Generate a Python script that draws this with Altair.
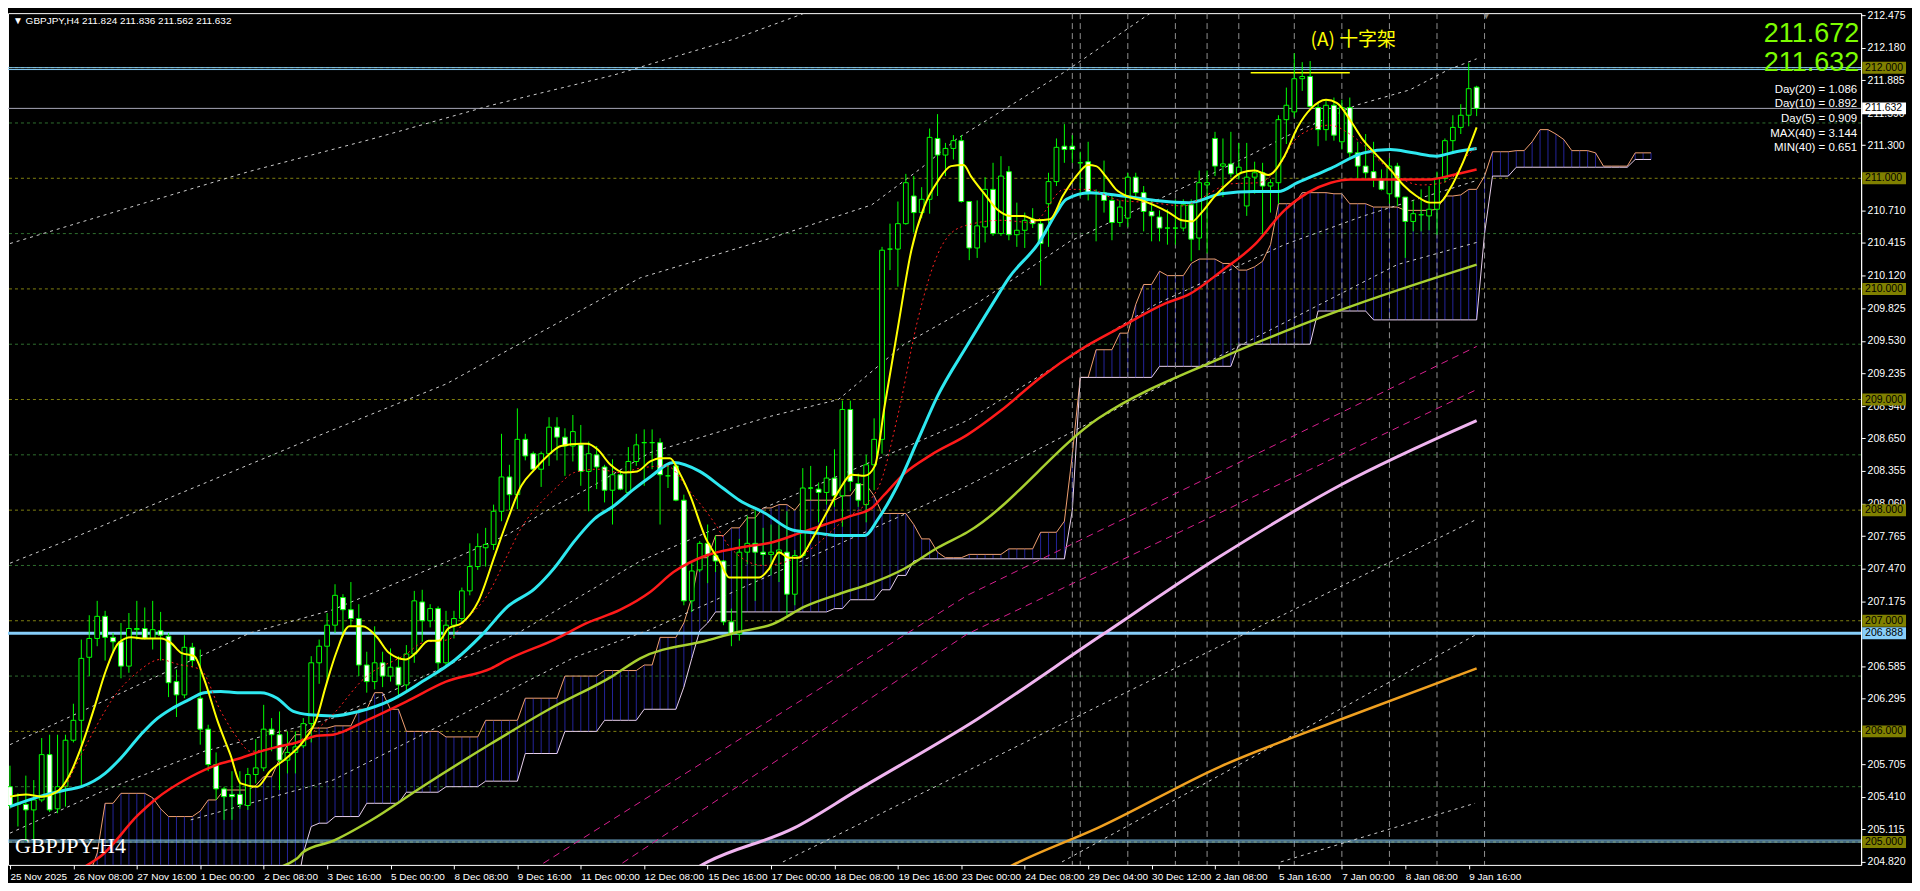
import json
import altair as alt
import pandas as pd

# ---------------- candles (H4, index 0 = 25 Nov 2025 00:00) ----------------
OPEN = [205.50,205.35,205.34,205.29,205.38,205.79,205.30,205.50,205.92,206.10,
206.67,206.84,207.04,206.85,206.81,206.59,206.92,206.93,206.84,206.91,
206.86,206.45,206.33,206.76,206.30,206.02,205.70,205.48,205.43,205.43,
205.33,205.61,205.67,206.02,205.97,205.74,205.81,205.87,206.07,206.62,
206.77,206.96,207.21,207.10,207.02,206.60,206.45,206.62,206.50,206.58,
206.42,206.70,207.17,207.00,207.11,206.62,206.96,207.02,207.27,207.49,
207.66,207.69,207.99,208.30,208.14,208.64,208.51,208.37,208.51,208.75,
208.66,208.58,208.59,208.35,208.50,208.39,208.18,208.32,208.16,208.44,
208.61,208.61,208.61,208.31,208.40,208.09,207.18,207.46,207.70,207.59,
207.54,206.99,206.88,207.62,207.70,207.62,207.60,207.61,207.62,207.24,
207.59,208.20,208.19,208.16,208.29,208.13,208.91,208.24,208.05,208.41,
208.64,210.36,210.36,210.59,210.84,210.69,210.81,211.36,211.21,211.27,
211.34,210.79,210.37,210.56,210.90,210.50,211.06,210.49,210.53,210.63,
210.59,210.77,210.97,211.29,211.29,211.14,211.15,210.87,210.87,210.80,
210.60,210.64,211.01,210.87,210.70,210.65,210.55,210.55,210.55,210.76,
210.46,210.94,211.36,211.11,211.13,211.04,210.75,211.01,211.05,210.93,
210.96,211.53,211.60,211.90,211.92,211.64,211.44,211.66,211.33,211.64,
211.23,211.11,211.06,210.99,210.86,211.11,210.83,210.61,210.67,210.66,
210.72,211.00,211.34,211.46,211.57,211.824]
HIGH = [205.69,205.44,205.60,205.56,205.94,205.97,205.97,205.97,206.25,206.83,
207.05,207.18,207.09,206.89,206.98,207.07,207.18,207.12,207.18,207.08,
206.89,206.56,206.87,206.80,206.74,206.06,205.81,205.50,205.64,205.64,
205.67,205.93,206.24,206.12,206.18,206.00,206.00,206.12,206.68,206.83,
207.07,207.33,207.24,207.35,207.15,206.72,206.95,206.72,206.75,206.68,
206.78,207.27,207.28,207.15,207.13,207.09,207.09,207.30,207.70,207.79,
207.84,208.05,208.69,208.41,208.92,208.69,208.53,208.53,208.84,208.84,
208.74,208.86,208.77,208.62,208.58,208.41,208.46,208.36,208.57,208.69,
208.73,208.73,208.65,208.41,208.43,208.14,207.52,207.72,207.87,207.77,
207.55,207.11,207.74,207.95,208.00,207.84,207.87,207.87,207.99,207.64,
208.38,208.40,208.25,208.40,208.55,208.99,208.99,208.33,208.50,208.83,
210.38,210.59,210.79,211.04,211.02,210.92,211.45,211.58,211.32,211.39,
211.39,210.79,210.80,211.01,211.14,211.20,211.11,210.78,210.69,210.73,
210.63,211.05,211.36,211.49,211.39,211.24,211.33,210.90,211.16,210.86,
210.80,211.05,211.05,210.93,210.80,210.71,210.72,210.81,210.81,210.81,
211.07,211.07,211.42,211.36,211.42,211.32,211.32,211.15,211.14,210.99,
211.57,211.82,212.13,212.05,212.06,211.68,211.71,211.73,211.71,211.73,
211.33,211.40,211.33,211.08,211.18,211.14,210.83,210.80,210.90,210.93,
211.06,211.36,211.57,211.67,212.04,211.836]
LOW = [205.30,205.14,205.01,204.99,205.36,205.27,205.26,205.32,205.90,205.50,
206.50,206.77,206.64,206.71,206.48,206.53,206.83,206.83,206.74,206.64,
206.31,206.13,206.30,206.58,205.88,205.64,205.38,205.20,205.20,205.30,
205.29,205.53,205.64,205.82,205.47,205.62,205.62,205.85,205.90,206.43,
206.44,206.89,206.86,206.95,206.50,206.35,206.38,206.40,206.45,206.30,
206.35,206.62,206.81,206.94,206.55,206.58,206.84,206.98,207.23,207.46,
207.49,207.64,207.90,208.00,208.01,208.45,208.35,208.21,208.40,208.45,
208.31,208.44,208.22,207.99,208.19,208.07,207.87,208.18,208.14,208.40,
208.22,208.37,207.87,208.20,208.08,207.14,207.08,207.44,207.34,207.44,
206.96,206.77,206.82,207.51,207.18,207.50,207.41,207.35,207.05,207.14,
207.57,208.09,207.89,208.05,208.03,207.85,208.17,208.03,207.89,208.18,
208.51,210.17,210.02,210.58,210.51,210.64,210.68,210.84,211.02,211.17,
210.78,210.26,210.28,210.42,210.48,210.48,210.44,210.38,210.37,210.55,
210.03,210.38,210.93,211.14,211.14,210.83,210.80,210.43,210.69,210.44,
210.56,210.56,210.83,210.52,210.43,210.43,210.40,210.40,210.52,210.25,
210.35,210.32,211.02,210.83,211.01,210.99,210.66,210.86,210.49,210.69,
210.77,211.31,211.55,211.79,211.64,211.29,211.34,211.34,211.26,211.19,
211.00,210.99,210.92,210.89,210.77,210.75,210.28,210.52,210.52,210.53,
210.49,210.96,211.24,211.40,211.47,211.562]
CLOSE = [205.33,205.34,205.29,205.38,205.79,205.29,205.50,205.92,206.10,206.66,
206.84,207.04,206.85,206.81,206.59,206.93,206.93,206.84,206.92,206.87,
206.44,206.33,206.76,206.64,206.02,205.70,205.48,205.41,205.41,205.34,
205.61,205.67,206.02,205.97,205.74,205.81,205.86,206.07,206.62,206.77,
206.96,207.23,207.10,207.02,206.60,206.45,206.62,206.50,206.58,206.42,
206.70,207.18,207.00,207.11,206.62,206.96,207.02,207.27,207.49,207.67,
207.69,207.99,208.30,208.14,208.64,208.49,208.37,208.51,208.75,208.66,
208.58,208.71,208.35,208.51,208.39,208.18,208.32,208.19,208.44,208.59,
208.61,208.61,208.32,208.31,208.09,207.18,207.45,207.70,207.60,207.54,
206.99,206.88,207.62,207.70,207.62,207.60,207.62,207.64,207.24,207.59,
208.20,208.20,208.16,208.29,208.13,208.91,208.26,208.09,208.41,208.64,
210.35,210.36,210.59,210.96,210.69,210.81,211.37,211.21,211.27,211.34,
210.79,210.37,210.57,210.90,210.50,211.02,210.49,210.53,210.62,210.59,
210.41,210.97,211.28,211.26,211.26,211.14,210.86,210.87,210.80,210.60,
210.74,211.01,210.87,210.70,210.66,210.55,210.55,210.55,210.76,210.45,
210.96,210.96,211.11,211.13,211.04,211.10,211.01,211.05,210.93,210.96,
211.53,211.66,211.90,211.92,211.65,211.44,211.66,211.39,211.64,211.23,
211.11,211.05,210.99,210.90,211.11,210.83,210.61,210.68,210.67,210.72,
211.00,211.34,211.46,211.57,211.81,211.632]

X_LABELS = ["25 Nov 2025", "26 Nov 08:00", "27 Nov 16:00", "1 Dec 00:00", "2 Dec 08:00",
            "3 Dec 16:00", "5 Dec 00:00", "8 Dec 08:00", "9 Dec 16:00", "11 Dec 00:00",
            "12 Dec 08:00", "15 Dec 16:00", "17 Dec 00:00", "18 Dec 08:00", "19 Dec 16:00",
            "23 Dec 00:00", "24 Dec 08:00", "29 Dec 04:00", "30 Dec 12:00", "2 Jan 08:00",
            "5 Jan 16:00", "7 Jan 00:00", "8 Jan 08:00", "9 Jan 16:00"]
X_TICKS = [0, 8, 16, 24, 32, 40, 48, 56, 64, 72, 80, 88, 96, 104, 112, 120, 128, 136, 144,
           152, 160, 168, 176, 184]
Y_TICKS = [204.820, 205.115, 205.410, 205.705, 206.295, 206.585, 207.175, 207.470,
           207.765, 208.060, 208.355, 208.650, 208.940, 209.235, 209.530, 209.825,
           210.120, 210.415, 210.710, 211.300, 211.590, 211.885, 212.180, 212.475]

# ---------------- indicator lines (index, price) ----------------
YELLOW = [(0,205.41),(2,205.43),(4,205.41),(6.2,205.47),(7.4,205.59),(9.1,205.88),(10.75,206.24),
          (12,206.53),(13.7,206.80),(15.3,206.85),(17,206.84),(19.1,206.84),(20.3,206.80),(21.6,206.71),
          (23.25,206.68),(24.5,206.47),(26.2,206.09),(27.8,205.79),(29.1,205.53),(31.2,205.50),
          (32.8,205.64),(34.9,205.76),(37,205.91),(38.7,206.12),(39.8,206.40),(41.2,206.72),
          (42.8,206.95),(44.5,206.95),(46.2,206.86),(47.8,206.71),(49.9,206.65),(51.2,206.71),
          (52.8,206.82),(54.1,206.82),(55.3,206.93),(57,206.98),(59.1,207.18),(61.2,207.60),
          (62.8,207.92),(64.5,208.22),(66.2,208.37),(67.8,208.49),(69.5,208.58),(72,208.60),
          (72.8,208.60),(74.1,208.55),(75.75,208.41),(77.4,208.34),(79.1,208.35),(80.75,208.44),
          (82,208.47),(83.25,208.47),(84.5,208.33),(85.75,208.14),(87.8,207.74),(89.5,207.54),
          (90.75,207.39),(92,207.39),(94.5,207.39),(95.75,207.47),(97,207.62),(98.25,207.57),
          (99.5,207.57),(101.2,207.74),(102.8,207.95),(104.5,208.17),(106.2,208.32),(107.8,208.31),
          (109.1,208.40),(110.3,208.93),(112,209.65),(113.7,210.35),(115.3,210.74),(117,210.97),
          (118.7,211.11),(120.3,211.12),(121.2,211.02),(122.8,210.87),(124.5,210.72),(126.2,210.66),
          (127.8,210.66),(129.5,210.62),(131.2,210.63),(132.8,210.84),(134.5,211.02),(136,211.12),
          (137,211.11),(138.2,211.02),(139.5,210.90),(141.2,210.83),(142.8,210.80),(144.5,210.75),
          (146.2,210.69),(147.8,210.62),(149.1,210.61),(150.3,210.69),(152,210.84),(153.7,210.96),
          (155.3,211.05),(157,211.07),(158.7,211.03),(160.75,211.20),(162.4,211.46),(164.1,211.63),
          (166,211.71),(167.4,211.68),(169.1,211.52),(170.75,211.34),(172.4,211.21),(174.1,211.08),
          (175.75,210.94),(177.4,210.84),(179.1,210.78),(180.3,210.78),(181.6,210.90),(183.25,211.14),
          (185,211.46)]
RED_DOT = [(7,205.50),(9,205.79),(11,206.06),(13,206.30),(16,206.53),(19,206.65),(21,206.61),
           (24,206.56),(26.6,206.18),(28.7,205.94),(30.3,205.82),(33,205.85),(36,205.90),(40,206.10),
           (45,206.50),(50,206.70),(52,206.80),(55.3,206.83),(57.4,207.00),(60.3,207.24),(62.8,207.60),
           (64.5,207.84),(66.6,208.04),(68.7,208.19),(71.2,208.34),(74.1,208.37),(77,208.34),
           (79.5,208.38),(82.8,208.40),(85.75,208.17),(89,207.87),(90.75,207.67),(95,207.50),
           (100,207.60),(105,207.90),(109.5,208.20),(112,208.86),(114.5,209.72),(117,210.31),
           (120,210.56),(125,210.62),(129,210.60),(133,210.90),(136,210.90),(140,210.80),
           (144,210.78),(148,210.75),(150,210.81),(154,210.95),(157.5,210.96),(160,211.10),
           (162,211.34),(164,211.44),(166.5,211.48),(169,211.40),(170.75,211.30),(173,211.14),
           (175,211.02),(178,210.94),(180,210.95),(182,211.01),(184,211.22),(185,211.28)]
CYAN = [(0,205.32),(3.7,205.41),(7,205.47),(9,205.50),(12,205.62),(14,205.76),(16.5,205.97),
        (18.3,206.10),(20.3,206.20),(22.4,206.28),(24.5,206.35),(26.6,206.36),(28.7,206.35),
        (31.6,206.35),(33.7,206.30),(35.75,206.18),(37.8,206.15),(40.75,206.14),(44,206.18),
        (48,206.28),(52,206.45),(56.2,206.65),(59.5,206.87),(62.8,207.13),(66.2,207.29),
        (68.7,207.48),(71.2,207.72),(73.7,207.92),(76.2,208.04),(78.7,208.19),(80.75,208.30),
        (83.7,208.43),(87,208.35),(89.9,208.20),(92,208.09),(95.3,207.97),(98.7,207.82),
        (102,207.79),(104.5,207.77),(107.8,207.77),(109.5,207.92),(112,208.23),(114.5,208.63),
        (117,209.03),(120.75,209.49),(123.9,209.86),(126,210.10),(129.9,210.43),(132,210.69),
        (133.25,210.81),(136.2,210.87),(140.3,210.84),(144.5,210.80),(148.7,210.78),(152.8,210.86),
        (157,210.88),(160,210.88),(162.4,210.96),(166.6,211.09),(170.75,211.23),(174.1,211.26),
        (177,211.23),(179.9,211.20),(182.4,211.24),(185,211.27)]
RED = [(9.5,204.78),(11.6,204.88),(16.1,205.24),(18.25,205.38),(22.8,205.59),(26.2,205.70),
       (28.7,205.75),(31.2,205.81),(33.7,205.86),(36.2,205.90),(38.7,205.96),(40.75,205.97),
       (45,206.10),(50,206.27),(55,206.45),(60.7,206.57),(62.8,206.65),(68.7,206.83),(72.8,206.98),
       (77,207.10),(80.75,207.26),(83.7,207.44),(87.8,207.59),(92,207.66),(96.2,207.71),
       (99.5,207.79),(102.8,207.87),(106.2,207.95),(108.7,208.02),(110.3,208.14),(112.8,208.33),
       (116.2,208.50),(120.75,208.68),(125,208.90),(130,209.20),(135,209.45),(140,209.65),
       (145.75,209.87),(148.7,209.95),(152.8,210.16),(157,210.40),(160.75,210.71),(163.7,210.87),
       (166.6,210.96),(169.1,210.99),(175.75,210.99),(179.1,210.99),(182,211.03),(185,211.08)]
LIME = [(32,204.74),(36.2,204.85),(37,204.91),(40.75,205.01),(45.4,205.19),(52,205.50),
        (60.7,205.89),(68,206.20),(76,206.50),(79.5,206.66),(87.8,206.82),(92,206.90),(96.2,206.97),
        (100.3,207.13),(104.5,207.24),(108.7,207.34),(112.8,207.47),(117,207.66),(120.75,207.80),
        (137.3,208.83),(152.6,209.37),(167.9,209.81),(185,210.22)]
PINK = [(85,204.70),(88,204.82),(99,205.13),(106.7,205.46),(122,206.11),(137.3,206.85),
        (152.6,207.58),(167.9,208.23),(185,208.81)]
ORANGE = [(124,204.70),(127.3,204.82),(137.3,205.13),(152.6,205.68),(167.9,206.11),(185,206.57)]
MAGENTA_A = [(66,204.75),(120.75,207.23),(185,209.48)]
MAGENTA_B = [(76,204.75),(120.75,206.88),(185,209.09)]
GRAY_DOTS = [
    [(0,210.41),(14.8,210.73),(30.1,211.06),(45.4,211.35),(60.7,211.66),(76,211.93),
     (91.4,212.26),(100.5,212.50)],
    [(0,207.52),(7,207.72),(39.5,208.69),(55,209.14),(79.5,210.10),(96,210.46),(108.7,210.76),
     (114.9,211.09),(119.5,211.36),(133,211.96),(145,212.55)],
    [(0,205.88),(30.3,206.89),(40.75,207.10),(55.3,207.54),(62.8,207.78),(68.7,208.04),
     (72.8,208.19),(80.75,208.52),(96,208.85),(104.5,209.00),(112.8,209.50),(120.75,209.82),
     (122.2,209.88),(133.7,210.43),(142.8,210.74),(149.9,210.98),(157,211.23),(161,211.38),
     (169.8,211.66),(176.6,211.80),(181.4,211.98),(185,212.08)],
    [(0,205.08),(12,205.47),(24.5,205.82),(40.75,206.12),(64.1,206.89),(79.5,207.54),
     (120.75,208.81),(144.5,209.86),(160.75,210.40),(170.75,210.66),(185,210.98)],
    [(22.8,205.20),(40.75,205.56),(71.2,206.67),(80.75,206.92),(120.75,208.22),(175,210.22),
     (185,210.42)],
    [(97.5,204.82),(184.8,207.91)],
    [(132.7,204.82),(184.8,206.87)],
    [(160.3,204.82),(184.8,205.35)],
]

# Ichimoku spans: (index where level starts, level)
SPAN_A = [(9,204.60),(10,204.70),(11,204.90),(12,205.35),(14,205.44),(18,205.40),(19,205.30),
          (20,205.23),(24,205.28),(25,205.38),(27,205.47),(31,205.51),(32,205.59),(34,205.75),
          (35,205.88),(36,205.97),(38,206.03),(41,206.05),(44,206.20),(46,206.35),(48,206.20),
          (50,206.00),(55,205.95),(60,206.10),(65,206.30),(70,206.50),(75,206.55),(80,206.60),
          (82,206.85),(85,206.98),(86,207.21),(87,207.57),(89,207.77),(91,207.84),(93,207.93),
          (95,208.02),(97,208.05),(99,208.00),(100,208.09),(105,208.13),(107,208.23),(109,208.13),
          (110,207.97),(114,207.87),(115,207.74),(117,207.62),(118,207.57),(121,207.60),
          (126,207.65),(130,207.80),(133,207.90),(134,208.50),(135,209.20),(137,209.45),
          (140,209.60),(142,209.86),(143,210.04),(145,210.16),(146,210.12),(149,210.23),
          (150,210.27),(153,210.23),(155,210.17),(157,210.20),(158,210.25),(159,210.40),
          (160,210.77),(163,210.87),(167,210.86),(169,210.77),(172,210.74),(176,210.71),
          (180,210.72),(181,210.84),(183,210.85),(184,210.90),(186,211.02),(187,211.24),
          (190,211.25),(192,211.33),(193,211.44),(195,211.40),(196,211.35),(197,211.25),
          (200,211.23),(201,211.11),(205,211.23)]
SPAN_B = [(9,204.50),(37,204.90),(38,205.14),(39,205.17),(41,205.23),(45,205.35),(50,205.45),
          (55,205.50),(60,205.55),(65,205.80),(70,206.00),(75,206.10),(80,206.20),(85,206.40),
          (86,206.66),(87,206.91),(88,206.98),(89,207.08),(104,207.11),(106,207.19),(110,207.28),
          (112,207.41),(114,207.54),(115,207.56),(134,208.00),(135,209.20),(145,209.30),
          (155,209.50),(165,209.80),(172,209.72),(186,210.50),(187,211.02),(190,211.10),
          (205,211.17)]
CLOUD_FIRST, CLOUD_LAST = 9, 207

GRID_INT = [205, 206, 207, 208, 209, 210, 211, 212]
GRID_HALF = [205.5, 206.5, 207.5, 208.5, 209.5, 210.5, 211.5, 212.5]
DAY_SEPS = [134, 135, 141, 147, 151, 155, 162, 168, 174, 180, 186]
BLUE_THIN = [212.0, 211.983, 205.0, 205.017]
BLUE_THICK = [206.888]
BID = 211.632
YELLOW_SEG = (156.5, 169, 211.955)
BOXES = [(212.0, "212.000", "#808000"), (211.0, "211.000", "#808000"), (210.0, "210.000", "#808000"),
         (209.0, "209.000", "#808000"), (208.0, "208.000", "#808000"), (207.0, "207.000", "#808000"),
         (206.0, "206.000", "#808000"), (205.0, "205.000", "#808000"),
         (206.888, "206.888", "#87cefa"), (211.632, "211.632", "#ffffff")]
STATS = ["Day(20) = 1.086", "Day(10) = 0.892", "Day(5) = 0.909", "MAX(40) = 3.144", "MIN(40) = 0.651"]

# ---------------- chart ----------------
W, H = 1858, 854
FONT = "Liberation Sans"
xs = alt.Scale(domain=[-0.25, 233.5], nice=False, zero=False)
ys = alt.Scale(domain=[204.793, 212.493], nice=False, zero=False)
X_AXIS = alt.Axis(values=X_TICKS,
                  labelExpr=json.dumps(X_LABELS) + "[round(datum.value/8)]",
                  labelAlign="left", labelBaseline="top", labelColor="white", labelFont=FONT,
                  labelFontSize=10, labelPadding=3, tickColor="white", tickSize=4,
                  domain=False, grid=False, title=None, labelOverlap=False, labelFlush=False)
Y_AXIS = alt.Axis(orient="right", values=Y_TICKS, format=".3f", labelColor="white", labelFont=FONT,
                  labelFontSize=10.5, labelPadding=2, tickColor="white", tickSize=4,
                  domainColor="white", grid=False, title=None, labelOverlap=False, labelFlush=False)


def X(field="i"):
    return alt.X(f"{field}:Q", scale=xs, axis=X_AXIS)


def Y(field="p"):
    return alt.Y(f"{field}:Q", scale=ys, axis=Y_AXIS)


def steps(bps, lo, hi):
    out, j = [], 0
    for i in range(lo, hi + 1):
        while j + 1 < len(bps) and bps[j + 1][0] <= i:
            j += 1
        out.append(bps[j][1])
    return out


def line(pts, color, width, dash=None, interp="monotone"):
    df = pd.DataFrame(pts, columns=["i", "p"])
    kw = dict(color=color, strokeWidth=width, clip=True, interpolate=interp)
    if dash:
        kw["strokeDash"] = dash
    return alt.Chart(df).mark_line(**kw).encode(x=X(), y=Y())


layers = []
cd = pd.DataFrame({"i": range(len(CLOSE)), "o": OPEN, "h": HIGH, "l": LOW, "c": CLOSE})

# grid
layers.append(alt.Chart(pd.DataFrame({"p": GRID_HALF})).mark_rule(
    color="#2f6f2f", strokeWidth=1, strokeDash=[3, 3], clip=True).encode(y=Y()))
layers.append(alt.Chart(pd.DataFrame({"p": GRID_INT})).mark_rule(
    color="#7f7f10", strokeWidth=1, strokeDash=[3, 3], clip=True).encode(y=Y()))

# Ichimoku cloud
ci = list(range(CLOUD_FIRST, CLOUD_LAST + 1))
cloud = pd.DataFrame({"i": ci, "a": steps(SPAN_A, CLOUD_FIRST, CLOUD_LAST),
                      "b": steps(SPAN_B, CLOUD_FIRST, CLOUD_LAST)})
layers.append(alt.Chart(cloud).mark_rule(color="#24249a", strokeWidth=1, clip=True).encode(
    x=X(), y=Y("a"), y2="b:Q"))
layers.append(alt.Chart(cloud).mark_line(color="#f0a070", strokeWidth=1, clip=True).encode(x=X(), y=Y("a")))
layers.append(alt.Chart(cloud).mark_line(color="#e8d0ec", strokeWidth=1, clip=True).encode(x=X(), y=Y("b")))

# day separators
layers.append(alt.Chart(pd.DataFrame({"i": DAY_SEPS})).mark_rule(
    color="#909090", strokeWidth=1, strokeDash=[6, 4], clip=True).encode(x=X()))

# horizontal objects
layers.append(alt.Chart(pd.DataFrame({"p": BLUE_THIN})).mark_rule(
    color="#87cefa", strokeWidth=1, clip=True).encode(y=Y()))
layers.append(alt.Chart(pd.DataFrame({"p": BLUE_THICK})).mark_rule(
    color="#87cefa", strokeWidth=3, clip=True).encode(y=Y()))
layers.append(alt.Chart(pd.DataFrame({"p": [BID]})).mark_rule(
    color="#a8a8b8", strokeWidth=1, clip=True).encode(y=Y()))
layers.append(alt.Chart(pd.DataFrame({"i": [YELLOW_SEG[0]], "i2": [YELLOW_SEG[1]], "p": [YELLOW_SEG[2]]})).mark_rule(
    color="#ffff00", strokeWidth=1.5, clip=True).encode(x=X(), x2="i2:Q", y=Y()))

# envelopes / bands
for g in GRAY_DOTS:
    layers.append(line(g, "#cfcfcf", 1, dash=[3, 4], interp="linear"))
layers.append(line(MAGENTA_A, "#d8208f", 1, dash=[7, 5], interp="linear"))
layers.append(line(MAGENTA_B, "#d8208f", 1, dash=[7, 5], interp="linear"))

# candles
layers.append(alt.Chart(cd).mark_rule(color="#00ff00", strokeWidth=1, clip=True).encode(
    x=X("i"), y=Y("l"), y2="h:Q"))
layers.append(alt.Chart(cd).transform_calculate(
    x0="datum.i - 0.3", x1="datum.i + 0.3",
    top="max(datum.o, datum.c)", bot="min(datum.o, datum.c)",
    bear="datum.c < datum.o ? 'bear' : 'bull'"
).mark_rect(stroke="#00ff00", strokeWidth=1, clip=True).encode(
    x=X("x0"), x2="x1:Q", y=Y("top"), y2="bot:Q",
    fill=alt.Fill("bear:N", scale=alt.Scale(domain=["bear", "bull"], range=["#ffffff", "#000000"]),
                  legend=None)))

# moving averages
layers.append(line(ORANGE, "#f0a020", 2.5))
layers.append(line(PINK, "#f0b4f0", 3))
layers.append(line(LIME, "#a8d030", 2.5))
layers.append(line(RED, "#ff1a1a", 2.5))
layers.append(line(CYAN, "#2ee8f0", 3))
layers.append(line(RED_DOT, "#ff2020", 1, dash=[2, 3]))
layers.append(line(YELLOW, "#ffff00", 2))

# price boxes on the right scale
bx = pd.DataFrame(BOXES, columns=["p", "t", "col"])
layers.append(alt.Chart(bx).mark_rule(strokeWidth=12).encode(
    y=Y(), x=alt.value(W + 1), x2=alt.value(W + 45),
    color=alt.Color("col:N", scale=None)))
layers.append(alt.Chart(bx).mark_text(align="left", baseline="middle", font=FONT, fontSize=10.5,
                                      color="#000000").encode(y=Y(), x=alt.value(W + 4), text="t:N"))


# texts
def txt(s, x, y, size, color, align="left", font=FONT):
    return alt.Chart(pd.DataFrame({"t": [s]})).mark_text(
        align=align, baseline="middle", font=font, fontSize=size, color=color
    ).encode(x=alt.value(x), y=alt.value(y), text="t:N")


layers.append(txt("\u25bc GBPJPY,H4  211.824 211.836 211.562 211.632", 5, 8, 10, "#ffffff"))
layers.append(txt("211.672", 1856, 21, 27, "#7cfc00", align="right"))
layers.append(txt("211.632", 1856, 50, 27, "#7cfc00", align="right"))
for k, s in enumerate(STATS):
    layers.append(txt(s, 1854, 77 + 14.6 * k, 11.5, "#ffffff", align="right"))
layers.append(txt("(A)  十字架", 1306, 27, 19, "#ffff00", font="Noto Sans CJK SC"))
layers.append(txt("GBPJPY-H4", 7, 835, 22, "#ffffff", font="Liberation Serif"))
layers.append(txt("\u25bc", 1482, 3, 9, "#808080", align="center"))

chart = alt.layer(*layers).properties(
    width=W, height=H, background="#000000",
    padding={"left": 0, "top": 0, "right": 0, "bottom": 0}
).configure_view(stroke="#ffffff", strokeWidth=1)

chart.save("out.html", embed_options={"renderer": "svg", "actions": False})
